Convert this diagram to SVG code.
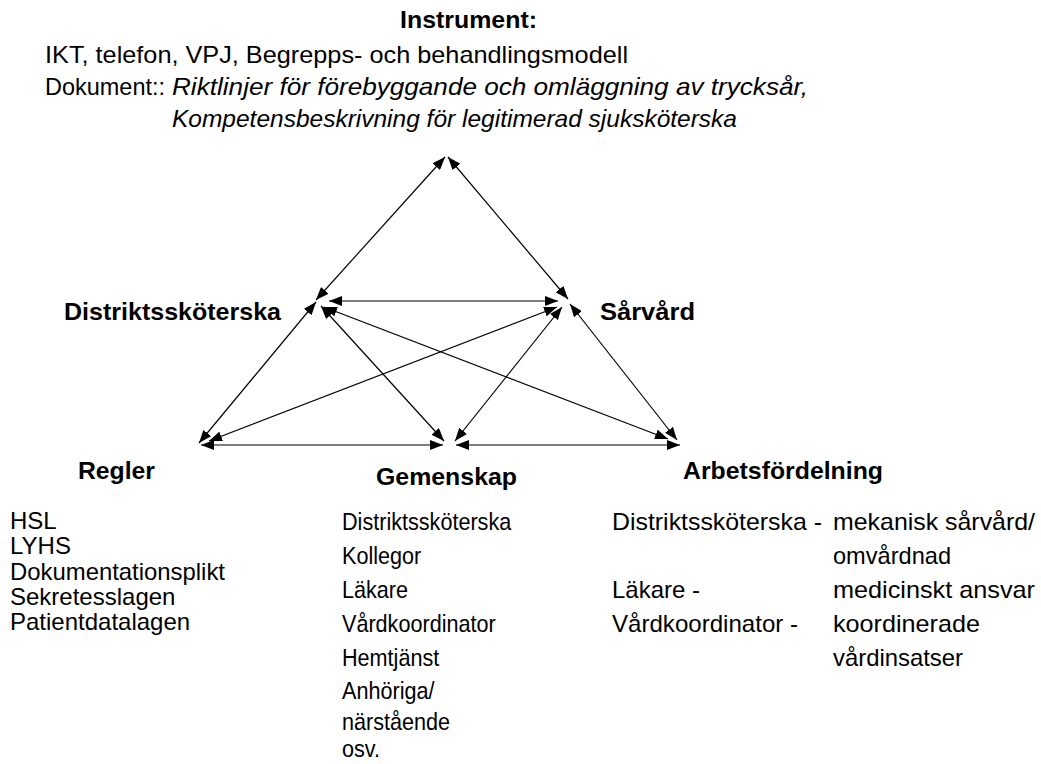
<svg xmlns="http://www.w3.org/2000/svg" width="1041" height="764" viewBox="0 0 1041 764">
  <defs>
    <marker id="head" viewBox="0 0 13 10" refX="13" refY="5" markerWidth="13" markerHeight="10" markerUnits="userSpaceOnUse" orient="auto-start-reverse">
      <path d="M0,0 L13,5 L0,10 Z" fill="#000"/>
    </marker>
  </defs>
  <style>
    text { font-family: "Liberation Sans", Arial, sans-serif; fill: #000; }
    .head { font-size: 24px; font-weight: bold; }
    .body { font-size: 24px; }
    .it { font-style: italic; }
    .edge { stroke: #000; stroke-width: 1.2; fill: none; marker-start: url(#head); marker-end: url(#head); }
  </style>
  <rect width="1041" height="764" fill="#fff"/>

  <!-- Instrument (apex) -->
  <g id="instrument">
    <text class="head" x="400" y="28" textLength="137" lengthAdjust="spacingAndGlyphs">Instrument:</text>
    <text class="body" x="45" y="63" textLength="583" lengthAdjust="spacingAndGlyphs">IKT, telefon, VPJ, Begrepps- och behandlingsmodell</text>
    <text class="body" x="45" y="95" textLength="120" lengthAdjust="spacingAndGlyphs">Dokument::</text>
    <text class="body it" x="172" y="95" textLength="636" lengthAdjust="spacingAndGlyphs">Riktlinjer för förebyggande och omläggning av trycksår,</text>
    <text class="body it" x="172" y="127" textLength="565" lengthAdjust="spacingAndGlyphs">Kompetensbeskrivning för legitimerad sjuksköterska</text>
  </g>

  <!-- Subjekt -->
  <g id="distriktsskoterska">
    <text class="head" x="64" y="320" textLength="217" lengthAdjust="spacingAndGlyphs">Distriktssköterska</text>
  </g>

  <!-- Objekt -->
  <g id="sarvard">
    <text class="head" x="600" y="320" textLength="95" lengthAdjust="spacingAndGlyphs">Sårvård</text>
  </g>

  <!-- Regler -->
  <g id="regler">
    <text class="head" x="78" y="479" textLength="77" lengthAdjust="spacingAndGlyphs">Regler</text>
    <text class="body" x="10" y="529">HSL</text>
    <text class="body" x="10" y="554">LYHS</text>
    <text class="body" x="10" y="580" textLength="215" lengthAdjust="spacingAndGlyphs">Dokumentationsplikt</text>
    <text class="body" x="10" y="605">Sekretesslagen</text>
    <text class="body" x="10" y="630">Patientdatalagen</text>
  </g>

  <!-- Gemenskap: members listed in a condensed face -->
  <g id="gemenskap">
    <text class="head" x="376" y="485" textLength="141" lengthAdjust="spacingAndGlyphs">Gemenskap</text>
    <g transform="translate(342 0) scale(0.9 1)">
      <text class="body" x="0" y="530">Distriktssköterska</text>
      <text class="body" x="0" y="564">Kollegor</text>
      <text class="body" x="0" y="598">Läkare</text>
      <text class="body" x="0" y="632">Vårdkoordinator</text>
      <text class="body" x="0" y="666">Hemtjänst</text>
      <text class="body" x="0" y="699">Anhöriga/</text>
      <text class="body" x="0" y="730">närstående</text>
      <text class="body" x="0" y="757">osv.</text>
    </g>
  </g>

  <!-- Arbetsfördelning -->
  <g id="arbetsfordelning">
    <text class="head" x="683" y="479" textLength="200" lengthAdjust="spacingAndGlyphs">Arbetsfördelning</text>
    <text class="body" x="612" y="530" textLength="210" lengthAdjust="spacingAndGlyphs">Distriktssköterska -</text>
    <text class="body" x="833" y="530" textLength="202" lengthAdjust="spacingAndGlyphs">mekanisk sårvård/</text>
    <text class="body" x="833" y="564" textLength="118" lengthAdjust="spacingAndGlyphs">omvårdnad</text>
    <text class="body" x="612" y="598" textLength="88" lengthAdjust="spacingAndGlyphs">Läkare -</text>
    <text class="body" x="833" y="598" textLength="202" lengthAdjust="spacingAndGlyphs">medicinskt ansvar</text>
    <text class="body" x="612" y="632" textLength="186" lengthAdjust="spacingAndGlyphs">Vårdkoordinator -</text>
    <text class="body" x="833" y="632" textLength="147" lengthAdjust="spacingAndGlyphs">koordinerade</text>
    <text class="body" x="833" y="666" textLength="130" lengthAdjust="spacingAndGlyphs">vårdinsatser</text>
  </g>

  <!-- Connectors: double-headed arrows between the six nodes -->
  <g id="connectors">
    <line class="edge" x1="445" y1="157" x2="316" y2="300"/>
    <line class="edge" x1="448" y1="157" x2="568" y2="299"/>
    <line class="edge" x1="316" y1="302" x2="199" y2="443"/>
    <line class="edge" x1="329" y1="301" x2="558" y2="301"/>
    <line class="edge" x1="324" y1="307" x2="668" y2="439"/>
    <line class="edge" x1="321" y1="306" x2="444" y2="441"/>
    <line class="edge" x1="557" y1="307" x2="209" y2="441"/>
    <line class="edge" x1="562" y1="307" x2="455" y2="441"/>
    <line class="edge" x1="570" y1="304" x2="677" y2="440"/>
    <line class="edge" x1="201" y1="445" x2="443" y2="445"/>
    <line class="edge" x1="456" y1="445" x2="680" y2="445"/>
  </g>
</svg>
